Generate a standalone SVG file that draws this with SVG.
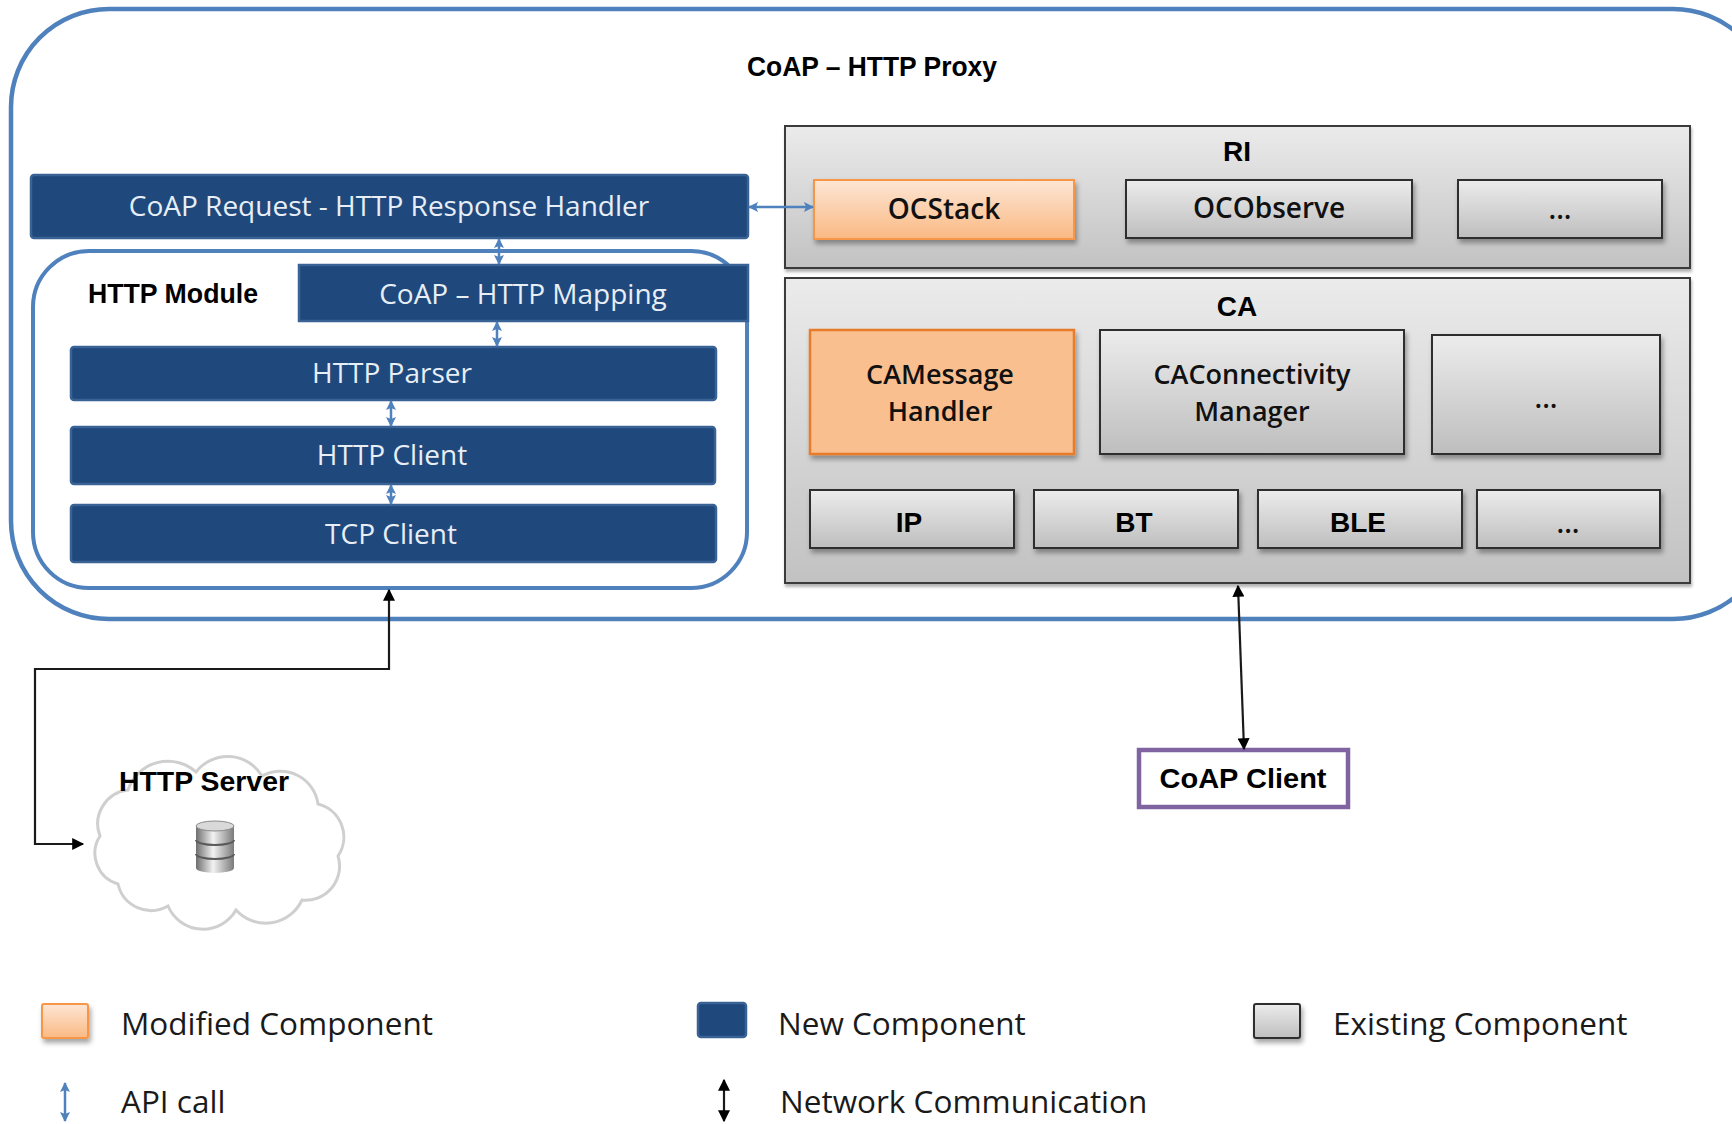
<svg xmlns="http://www.w3.org/2000/svg" width="1732" height="1124" viewBox="0 0 1732 1124">
<defs>
  <linearGradient id="gGray" x1="0" y1="0" x2="0" y2="1">
    <stop offset="0" stop-color="#ECECEC"/>
    <stop offset="1" stop-color="#BEBEBE"/>
  </linearGradient>
  <linearGradient id="gPanel" x1="0" y1="0" x2="0" y2="1">
    <stop offset="0" stop-color="#EBEBEB"/>
    <stop offset="1" stop-color="#C2C2C2"/>
  </linearGradient>
  <linearGradient id="gOrange" x1="0" y1="0" x2="0" y2="1">
    <stop offset="0" stop-color="#FDE6D5"/>
    <stop offset="1" stop-color="#FAB983"/>
  </linearGradient>
  <linearGradient id="gDb" x1="0" y1="0" x2="1" y2="0">
    <stop offset="0" stop-color="#6E6E6E"/>
    <stop offset="0.45" stop-color="#F2F2F2"/>
    <stop offset="1" stop-color="#7A7A7A"/>
  </linearGradient>
  <filter id="sh" x="-10%" y="-10%" width="130%" height="140%">
    <feDropShadow dx="2" dy="4" stdDeviation="2.5" flood-color="#000" flood-opacity="0.35"/>
  </filter>
  <filter id="shs" x="-10%" y="-10%" width="130%" height="140%">
    <feDropShadow dx="1" dy="3" stdDeviation="1.5" flood-color="#000" flood-opacity="0.3"/>
  </filter>
  <marker id="ab" viewBox="0 0 10 10" refX="9" refY="5" markerWidth="11" markerHeight="10" markerUnits="userSpaceOnUse" orient="auto-start-reverse">
    <path d="M0,0 L10,5 L0,10 L2,5 z" fill="#4F81BD"/>
  </marker>
  <marker id="nb" viewBox="0 0 10 10" refX="9" refY="5" markerWidth="14" markerHeight="12" markerUnits="userSpaceOnUse" orient="auto-start-reverse">
    <path d="M0,0 L10,5 L0,10 z" fill="#000"/>
  </marker>
  <style>
    .outer{fill:#FFFFFF;stroke:#4F81BD;stroke-width:4.5}
    .mod{fill:none;stroke:#4F81BD;stroke-width:4}
    .panel{fill:url(#gPanel);stroke:#3A3A3A;stroke-width:2;filter:url(#shs)}
    .gray{fill:url(#gGray);stroke:#2E2E2E;stroke-width:2;filter:url(#sh)}
    .orange{fill:url(#gOrange);stroke:#F79646;stroke-width:2;filter:url(#sh)}
    .orange2{fill:#F9BF8F;stroke:#E87B2A;stroke-width:2.5;filter:url(#sh)}
    .blue{fill:#1F497D;stroke:#3A6395;stroke-width:2.5}
    .client{fill:#FFFFFF;stroke:#8064A2;stroke-width:4.5}
    .wt{font-family:"Open Sans","DejaVu Sans",sans-serif;font-size:28px;fill:#E8EEF6;text-anchor:middle;dominant-baseline:central}
    .bt{font-family:"Open Sans","DejaVu Sans",sans-serif;font-size:28px;font-weight:600;fill:#111;text-anchor:middle;dominant-baseline:central}
    .bt2{font-family:"Open Sans","DejaVu Sans",sans-serif;font-size:27px;font-weight:600;fill:#111;text-anchor:middle;dominant-baseline:central}
    .nt{font-family:"Liberation Sans Narrow","Liberation Sans",sans-serif;font-weight:bold;font-size:28px;fill:#000;text-anchor:middle;dominant-baseline:central}
    .lg{font-family:"Open Sans","DejaVu Sans",sans-serif;font-size:31.5px;fill:#1A1A1A;dominant-baseline:central}
    .api{stroke:#4F81BD;stroke-width:2.5;fill:none;marker-start:url(#ab);marker-end:url(#ab)}
    .net{stroke:#1A1A1A;stroke-width:2.2;fill:none}
  </style>
</defs>

<g id="proxy">
  <rect class="outer" x="11" y="9" width="1760" height="610" rx="98" ry="98"/>
  <text class="nt" x="872" y="66" textLength="250" lengthAdjust="spacingAndGlyphs">CoAP – HTTP Proxy</text>
</g>

<g id="ri">
  <rect class="panel" x="785" y="126" width="905" height="142"/>
  <text class="nt" x="1237" y="151" font-size="26">RI</text>
</g>
<g id="ocstack">
  <rect class="orange" x="814" y="180" width="260" height="59"/>
  <text class="bt" x="944" y="208">OCStack</text>
</g>
<g id="ocobserve">
  <rect class="gray" x="1126" y="180" width="286" height="58"/>
  <text class="bt" x="1269" y="207">OCObserve</text>
</g>
<g id="ri-more">
  <rect class="gray" x="1458" y="180" width="204" height="58"/>
  <text class="bt" x="1560" y="208">...</text>
</g>

<g id="ca">
  <rect class="panel" x="785" y="278" width="905" height="305"/>
  <text class="nt" x="1237" y="306" font-size="26">CA</text>
</g>
<g id="camessage">
  <rect class="orange2" x="810" y="330" width="264" height="124"/>
  <text class="bt2" x="940" y="373">CAMessage</text>
  <text class="bt2" x="940" y="410">Handler</text>
</g>
<g id="caconn">
  <rect class="gray" x="1100" y="330" width="304" height="124"/>
  <text class="bt2" x="1252" y="373">CAConnectivity</text>
  <text class="bt2" x="1252" y="410">Manager</text>
</g>
<g id="ca-more">
  <rect class="gray" x="1432" y="335" width="228" height="119"/>
  <text class="bt" x="1546" y="397">...</text>
</g>
<g id="ip">
  <rect class="gray" x="810" y="490" width="204" height="58"/>
  <text class="nt" x="909" y="522" font-size="26">IP</text>
</g>
<g id="btn">
  <rect class="gray" x="1034" y="490" width="204" height="58"/>
  <text class="nt" x="1134" y="522" font-size="26">BT</text>
</g>
<g id="ble">
  <rect class="gray" x="1258" y="490" width="204" height="58"/>
  <text class="nt" x="1358" y="522" font-size="26">BLE</text>
</g>
<g id="tr-more">
  <rect class="gray" x="1477" y="490" width="183" height="58"/>
  <text class="bt" x="1568" y="522">...</text>
</g>

<g id="handler">
  <rect class="blue" x="31" y="175" width="717" height="63" rx="3"/>
  <text class="wt" x="389" y="205">CoAP Request - HTTP Response Handler</text>
</g>

<g id="httpmodule">
  <rect class="mod" x="33" y="251" width="714" height="337" rx="56" ry="56"/>
  <text class="nt" x="173" y="293" textLength="170" lengthAdjust="spacingAndGlyphs">HTTP Module</text>
</g>
<g id="mapping">
  <rect class="blue" x="299" y="265" width="449" height="56"/>
  <text class="wt" x="523" y="293">CoAP – HTTP Mapping</text>
</g>
<g id="parser">
  <rect class="blue" x="71" y="347" width="645" height="53" rx="3"/>
  <text class="wt" x="392" y="372">HTTP Parser</text>
</g>
<g id="httpclient">
  <rect class="blue" x="71" y="427" width="644" height="57" rx="3"/>
  <text class="wt" x="392" y="454">HTTP Client</text>
</g>
<g id="tcpclient">
  <rect class="blue" x="71" y="505" width="645" height="57" rx="3"/>
  <text class="wt" x="391" y="533">TCP Client</text>
</g>

<g id="httpserver">
  <path d="M118 884 A32 32 0 0 1 100 836 A34 34 0 0 1 128 790 A42 42 0 0 1 196 772 A40 40 0 0 1 262 776 A38 38 0 0 1 318 804 A34 34 0 0 1 338 856 A34 34 0 0 1 302 900 A40 40 0 0 1 236 910 A38 38 0 0 1 168 906 A34 34 0 0 1 118 884 Z" fill="#FFFFFF" stroke="#CFCFCF" stroke-width="3"/>
  <text class="nt" x="204" y="781" textLength="170" lengthAdjust="spacingAndGlyphs">HTTP Server</text>
  <g id="db">
    <rect x="196" y="826" width="38" height="42" fill="url(#gDb)"/>
    <ellipse cx="215" cy="868" rx="19" ry="5" fill="url(#gDb)"/>
    <path d="M196 840 A19 5 0 0 0 234 840" fill="none" stroke="#5A5A5A" stroke-width="2"/>
    <path d="M196 854 A19 5 0 0 0 234 854" fill="none" stroke="#5A5A5A" stroke-width="2"/>
    <ellipse cx="215" cy="826" rx="19" ry="5" fill="#D9D9D9" stroke="#8A8A8A" stroke-width="1"/>
  </g>
</g>

<g id="coapclient">
  <rect class="client" x="1139" y="750" width="209" height="57"/>
  <text class="nt" x="1243" y="778" textLength="167" lengthAdjust="spacingAndGlyphs">CoAP Client</text>
</g>

<g id="connectors">
  <path class="api" d="M499 239 V264"/>
  <path class="api" d="M497 322 V346"/>
  <path class="api" d="M391 401 V426"/>
  <path class="api" d="M391 485 V504"/>
  <path class="api" d="M749 207 H813"/>
  <path class="net" d="M83 844 H35 V669 H389 V590" marker-start="url(#nb)" marker-end="url(#nb)"/>
  <path class="net" d="M1238 586 L1244 749" marker-start="url(#nb)" marker-end="url(#nb)"/>
</g>

<g id="legend">
  <rect x="42" y="1004" width="46" height="34" rx="2" fill="url(#gOrange)" stroke="#F79646" stroke-width="2" filter="url(#sh)"/>
  <text class="lg" x="121" y="1022">Modified Component</text>
  <rect x="698" y="1003" width="48" height="34" rx="3" fill="#1F497D" stroke="#3A6395" stroke-width="2.5"/>
  <text class="lg" x="778" y="1022">New Component</text>
  <rect x="1254" y="1004" width="46" height="34" rx="2" fill="url(#gGray)" stroke="#2E2E2E" stroke-width="2" filter="url(#sh)"/>
  <text class="lg" x="1333" y="1022">Existing Component</text>
  <path class="api" d="M65 1083 V1121"/>
  <text class="lg" x="121" y="1100">API call</text>
  <path class="net" d="M724 1080 V1121" marker-start="url(#nb)" marker-end="url(#nb)"/>
  <text class="lg" x="780" y="1100">Network Communication</text>
</g>
</svg>
